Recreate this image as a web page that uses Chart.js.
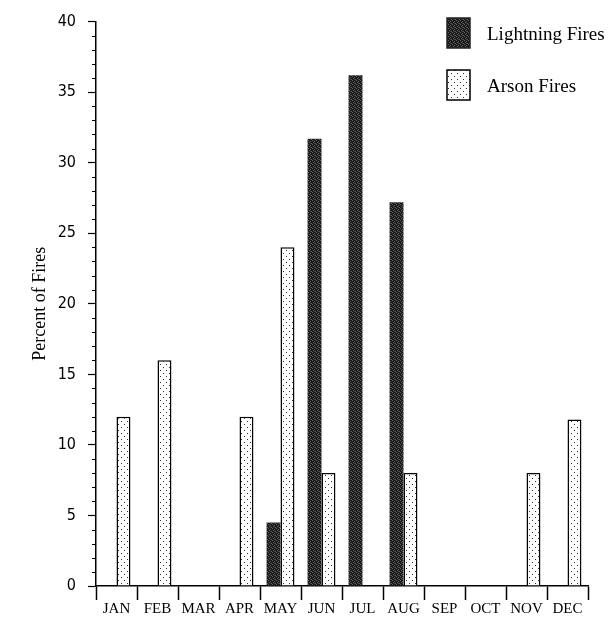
<!DOCTYPE html>
<html><head><meta charset="utf-8">
<script src="https://cdn.jsdelivr.net/npm/chart.js@4/dist/chart.umd.min.js"></script>
<style>html,body{margin:0;padding:0;background:#fff}#wrap{width:616px;height:631px}</style>
</head><body><div id="wrap"><canvas id="c" width="616" height="631"></canvas></div>
<script>
const months = ['JAN','FEB','MAR','APR','MAY','JUN','JUL','AUG','SEP','OCT','NOV','DEC'];
const lightningFires = [0,0,0,0,4.5,31.7,36.2,27.2,0,0,0,0];
const arsonFires = [12,16,0,12,24,8,0,8,0,0,8,11.8];
const seriesNames = ['Lightning Fires','Arson Fires'];
const yTicks = [0,5,10,15,20,25,30,35,40];

function makePattern(kind){
  const cv=document.createElement('canvas');
  const g=cv.getContext('2d');
  if(kind==='dark'){
    cv.width=4;cv.height=4;
    g.fillStyle='#1a1a1a';g.fillRect(0,0,4,4);
    g.fillStyle='#606060';
    g.fillRect(0,0,1,1);g.fillRect(2,1,1,1);g.fillRect(1,2,1,1);g.fillRect(3,3,1,1);
    g.fillStyle='#3c3c3c';g.fillRect(2,3,1,1);
  } else {
    cv.width=6;cv.height=6;
    g.fillStyle='#fff';g.fillRect(0,0,6,6);
    g.fillStyle='#333';
    g.fillRect(1,1,1,1);g.fillRect(4,4,1,1);
  }
  return g.createPattern(cv,'repeat');
}
const darkPat=makePattern('dark');
const dotPat=makePattern('dots');

const legendPlugin={
  id:'customLegend',
  afterDraw(chart){
    const ctx=chart.ctx;
    const items=[{y:18,fill:darkPat,border:'#222'},{y:70,fill:dotPat,border:'#000'}];
    ctx.save();
    chart.data.datasets.forEach((ds,i)=>{
      const it=items[i];
      ctx.fillStyle=it.fill;
      ctx.fillRect(447,it.y,23,30);
      ctx.strokeStyle=it.border;ctx.lineWidth=1.5;
      ctx.strokeRect(447,it.y,23,30);
      ctx.fillStyle='#000';
      ctx.font='19px "Liberation Serif", "Times New Roman", serif';
      ctx.textBaseline='middle';ctx.textAlign='left';
      ctx.fillText(ds.label,487,it.y+17);
    });
    // minor y ticks
    const ys=chart.scales.y;
    ctx.strokeStyle='#000';ctx.lineWidth=1;
    for(let v=0;v<=40;v++){
      if(v%5===0)continue;
      const p=Math.round(ys.getPixelForValue(v))+0.5;
      ctx.beginPath();ctx.moveTo(ys.right-4,p);ctx.lineTo(ys.right,p);ctx.stroke();
    }
    ctx.restore();
  }
};

new Chart(document.getElementById('c'),{
  type:'bar',
  data:{labels:months,datasets:[
    {label:seriesNames[0],data:lightningFires,backgroundColor:darkPat,borderColor:'#222',borderWidth:0,barPercentage:1,categoryPercentage:0.68},
    {label:seriesNames[1],data:arsonFires,backgroundColor:dotPat,borderColor:'#000',borderWidth:1.5,barPercentage:1,categoryPercentage:0.68}
  ]},
  options:{
    responsive:false,animation:false,
    layout:{padding:{top:14,right:28,left:0,bottom:0}},
    plugins:{legend:{display:false},tooltip:{enabled:false}},
    scales:{
      x:{
        grid:{display:true,drawOnChartArea:false,drawTicks:true,tickLength:14,color:'#000',tickColor:'#000',tickWidth:1.5,offset:true},
        border:{display:true,color:'#000',width:1.5},
        ticks:{color:'#000',padding:0,font:{family:'"Liberation Serif", "Times New Roman", serif',size:15},maxRotation:0,autoSkip:false},
        afterFit(s){s.height=45;}
      },
      y:{
        min:0,max:40,
        grid:{display:true,drawOnChartArea:false,drawTicks:true,tickLength:8,tickColor:(c)=>(c.tick && c.tick.value%5===0)?'#000':'rgba(0,0,0,0)',tickWidth:1.2},
        border:{display:true,color:'#000',width:1.5},
        ticks:{stepSize:5,color:'#000',padding:12,font:{family:'"Liberation Sans Narrow", "DejaVu Sans Condensed", "Arial Narrow", sans-serif',size:16},
          callback:(v)=>yTicks.includes(v)?String(v):''},
        title:{display:true,text:'Percent of Fires',color:'#000',font:{family:'"Liberation Serif", "Times New Roman", serif',size:18},padding:{top:29,bottom:0}},
        afterFit(s){s.width=96;}
      }
    }
  },
  plugins:[legendPlugin]
});
</script></body></html>
